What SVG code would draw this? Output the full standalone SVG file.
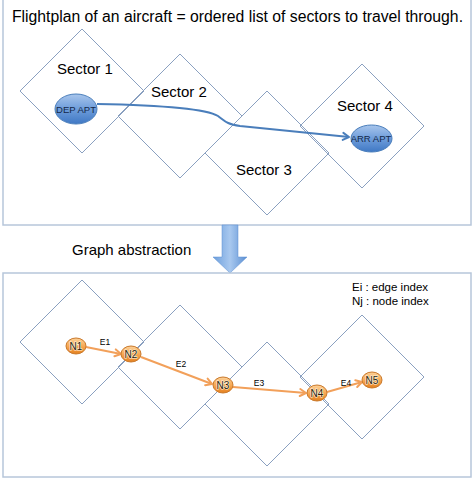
<svg xmlns="http://www.w3.org/2000/svg" width="474" height="501" viewBox="0 0 474 501">
<defs>
<style>
.frame{fill:#fff;stroke:#b7c6da;stroke-width:1.5}
.sec{fill:none;stroke:#8aa0c0;stroke-width:1}
.t{font-family:"Liberation Sans",Arial,sans-serif;fill:#000}
.lbl{font-family:"Liberation Sans",Arial,sans-serif;font-size:15px;fill:#000}
.apt{fill:url(#gb);stroke:#4a7ebb;stroke-width:1}
.aptt{font-family:"Liberation Sans",Arial,sans-serif;font-size:9.5px;fill:#14284a;text-anchor:middle}
.nd{fill:url(#go);stroke:#c9782a;stroke-width:1}
.ndt{font-family:"Liberation Sans",Arial,sans-serif;font-size:10px;fill:#2a1a05;text-anchor:middle;stroke:#fff3e0;stroke-width:1.2;paint-order:stroke}
.edge{fill:none;stroke:#f2a05a;stroke-width:2}
.el{font-family:"Liberation Sans",Arial,sans-serif;font-size:8.5px;fill:#000;text-anchor:middle}
</style>
<linearGradient id="gb" x1="0" y1="0" x2="0" y2="1">
<stop offset="0" stop-color="#a9c6ec"/><stop offset="0.5" stop-color="#6e9ddb"/><stop offset="1" stop-color="#3f78c4"/>
</linearGradient>
<linearGradient id="go" x1="0" y1="0" x2="0" y2="1">
<stop offset="0" stop-color="#fcd29a"/><stop offset="0.5" stop-color="#f7a955"/><stop offset="1" stop-color="#e4801e"/>
</linearGradient>
<linearGradient id="ga" x1="0" y1="0" x2="1" y2="0">
<stop offset="0" stop-color="#6d9fdc"/><stop offset="0.5" stop-color="#a8c8ef"/><stop offset="1" stop-color="#5b8fd2"/>
</linearGradient>
<marker id="mb" markerWidth="10" markerHeight="10" refX="8" refY="5" orient="auto" markerUnits="userSpaceOnUse">
<path d="M2,1.5 L8,5 L2,8.5" fill="none" stroke="#4a7ebb" stroke-width="2" stroke-linejoin="round" stroke-linecap="round"/>
</marker>
<marker id="mo" markerWidth="10" markerHeight="10" refX="8" refY="5" orient="auto" markerUnits="userSpaceOnUse">
<path d="M2,1.5 L8,5 L2,8.5" fill="none" stroke="#f2a05a" stroke-width="2" stroke-linejoin="round" stroke-linecap="round"/>
</marker>
</defs>
<rect width="474" height="501" fill="#fff"/>

<g id="top-panel">
<rect class="frame" x="3" y="-1" width="468" height="226"/>
<text class="t" x="12" y="22" font-size="16" textLength="451" lengthAdjust="spacingAndGlyphs">Flightplan of an aircraft = ordered list of sectors to travel through.</text>
</g>

<g id="sector1"><path class="sec" d="M82,29 L144,91 L82,153 L20,91 Z"/><text class="lbl" x="57" y="74">Sector 1</text></g>
<g id="sector2"><path class="sec" d="M180,54 L242,116 L180,178 L118,116 Z"/><text class="lbl" x="151" y="97">Sector 2</text></g>
<g id="sector3"><path class="sec" d="M267,91 L329,153 L267,215 L205,153 Z"/><text class="lbl" x="236" y="175">Sector 3</text></g>
<g id="sector4"><path class="sec" d="M362,64 L424,126 L362,188 L300,126 Z"/><text class="lbl" x="337" y="111">Sector 4</text></g>

<g id="connectors-top">
<path d="M97,104 C150,105 205,108 218,116 C225,121 226,124 240,126 L349,137" fill="none" stroke="#4a7ebb" stroke-width="2" marker-end="url(#mb)"/>
</g>

<g id="dep-apt"><ellipse class="apt" cx="76" cy="109" rx="21" ry="15"/><text class="aptt" x="76" y="113">DEP APT</text></g>
<g id="arr-apt"><ellipse class="apt" cx="371.5" cy="138.5" rx="20.5" ry="13.5"/><text class="aptt" x="371" y="142">ARR APT</text></g>

<g id="abstraction-arrow">
<path d="M222,225 L238,225 L238,257 L247,257 L230,273 L213,257 L222,257 Z" fill="url(#ga)" stroke="#5b8fd2" stroke-width="0.5"/>
<text class="lbl" x="72" y="255">Graph abstraction</text>
</g>

<g id="bottom-panel">
<rect class="frame" x="3" y="273" width="468" height="204"/>
<text class="t" x="352" y="291" font-size="11.5">Ei : edge index</text>
<text class="t" x="352" y="305" font-size="11.5">Nj : node index</text>
</g>

<g id="gsector1"><path class="sec" d="M82,280 L144,342 L82,404 L20,342 Z"/></g>
<g id="gsector2"><path class="sec" d="M180,305 L242,367 L180,429 L118,367 Z"/></g>
<g id="gsector3"><path class="sec" d="M267,342 L329,404 L267,466 L205,404 Z"/></g>
<g id="gsector4"><path class="sec" d="M362,315 L424,377 L362,439 L300,377 Z"/></g>

<g id="connectors">
<path class="edge" d="M86,347 L121,354" marker-end="url(#mo)"/>
<path class="edge" d="M141,357 L212,384" marker-end="url(#mo)"/>
<path class="edge" d="M233,387 L306,393" marker-end="url(#mo)"/>
<path class="edge" d="M327,392 L362,382" marker-end="url(#mo)"/>
<text class="el" x="105" y="345">E1</text>
<text class="el" x="181" y="367">E2</text>
<text class="el" x="259" y="386">E3</text>
<text class="el" x="346" y="386">E4</text>
</g>

<g id="n1"><ellipse class="nd" cx="76" cy="346" rx="10" ry="8"/><text class="ndt" x="76" y="349.5">N1</text></g>
<g id="n2"><ellipse class="nd" cx="131" cy="354" rx="10" ry="8"/><text class="ndt" x="131" y="357.5">N2</text></g>
<g id="n3"><ellipse class="nd" cx="223" cy="385" rx="10" ry="8"/><text class="ndt" x="223" y="388.5">N3</text></g>
<g id="n4"><ellipse class="nd" cx="317" cy="393" rx="10" ry="8"/><text class="ndt" x="317" y="396.5">N4</text></g>
<g id="n5"><ellipse class="nd" cx="372" cy="380" rx="10" ry="8"/><text class="ndt" x="372" y="383.5">N5</text></g>
</svg>
